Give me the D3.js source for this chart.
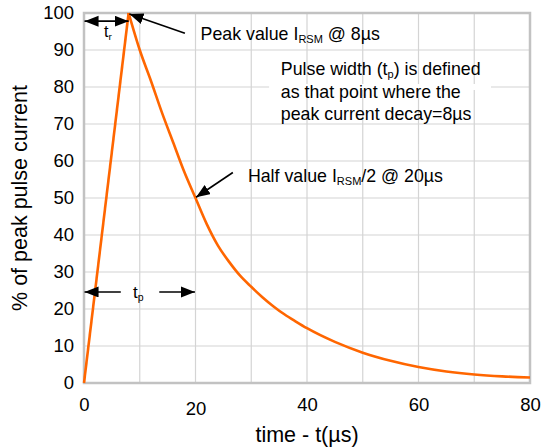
<!DOCTYPE html>
<meta charset="utf-8">
<html>
  <head>
    <title>Pulse current waveform</title>
    <style>
      body { margin: 0; background: #fff; }
      text { font-family: "Liberation Sans", Arial, sans-serif; fill: #000; }
    </style>
  </head>
  <body>
    <div id="chart"></div>
  </body>

<script src="https://d3js.org/d3.v7.min.js"></script>
<script>
// waveform: time in µs, current as % of peak
var timeUs  = [0, 8, 10, 12, 14, 16, 18, 20, 22, 24, 26, 28, 30, 32, 34, 36, 38, 40, 45, 50, 55, 60, 65, 70, 75, 80]
var pctPeak = [0, 100, 90, 81.7, 73, 65, 57, 50, 43, 37.2, 32.8, 29, 26, 23.2, 20.7, 18.5, 16.6, 14.8, 11.1, 8.2, 6, 4.3, 3.1, 2.3, 1.8, 1.5]

// axis ticks and grid
var xTicks = [0, 20, 40, 60, 80]
var xGrid  = [0, 10, 20, 30, 40, 50, 60, 70, 80]
var yTicks = [0, 10, 20, 30, 40, 50, 60, 70, 80, 90, 100]

var margin = {top: 13, right: 12, bottom: 65, left: 84},
    width = 542 - margin.left - margin.right,
    height = 448 - margin.top - margin.bottom;

var svg = d3.select("#chart")
  .append("svg")
    .attr("width", width + margin.left + margin.right)
    .attr("height", height + margin.top + margin.bottom)
  .append("g")
    .attr("transform", "translate(" + margin.left + "," + margin.top + ")")

var x = d3.scaleLinear().domain([0, 80]).range([0, width])
var y = d3.scaleLinear().domain([0, 100]).range([height, 0])

// arrow heads
var defs = svg.append("defs")
defs.append("marker")
    .attr("id", "arrow")
    .attr("markerUnits", "userSpaceOnUse")
    .attr("markerWidth", 15)
    .attr("markerHeight", 12)
    .attr("refX", 14)
    .attr("refY", 5.5)
    .attr("orient", "auto-start-reverse")
  .append("path")
    .attr("d", "M0,0 L14,5.5 L0,11 Z")
    .style("fill", "#000")

// grid
svg.selectAll("vgrid")
  .data(xGrid)
  .enter()
  .append("line")
    .attr("x1", function(d) { return x(d) })
    .attr("x2", function(d) { return x(d) })
    .attr("y1", 0)
    .attr("y2", height)
    .style("stroke", "#d4d4d4")
    .style("stroke-width", 1.2)
svg.selectAll("hgrid")
  .data(yTicks)
  .enter()
  .append("line")
    .attr("x1", 0)
    .attr("x2", width)
    .attr("y1", function(d) { return y(d) })
    .attr("y2", function(d) { return y(d) })
    .style("stroke", "#d4d4d4")
    .style("stroke-width", 1.2)

// the 80% grid line is broken behind the pulse width note
svg.append("rect")
  .attr("x", x(33.2))
  .attr("y", y(80) - 3)
  .attr("width", x(73) - x(33.2))
  .attr("height", 6)
  .style("fill", "#fff")

// frame
svg.append("rect")
  .attr("x", 0)
  .attr("y", 0)
  .attr("width", width)
  .attr("height", height)
  .style("fill", "none")
  .style("stroke", "#c2c2c2")
  .style("stroke-width", 2.5)

// axes
var yAxis = svg.append("g")
  .call(d3.axisLeft(y).tickValues(yTicks).tickSize(0).tickPadding(10))
yAxis.select(".domain").remove()
yAxis.selectAll("text").style("font-size", "18.5px").style("fill", "#000")

var xAxis = svg.append("g")
  .attr("transform", "translate(0," + height + ")")
  .call(d3.axisBottom(x).tickValues(xTicks).tickSize(0).tickPadding(15))
xAxis.select(".domain").remove()
xAxis.selectAll("text").style("font-size", "18.5px").style("fill", "#000")
// the "20" label sits a little lower in the original
xAxis.selectAll("text").filter(function(d) { return d === 20 }).attr("dy", "0.93em")

// axis titles
svg.append("text")
  .attr("text-anchor", "middle")
  .attr("x", width / 2)
  .attr("y", height + 59)
  .style("font-size", "21.5px")
  .text("time - t(µs)")
svg.append("text")
  .attr("text-anchor", "middle")
  .attr("transform", "rotate(-90)")
  .attr("x", -height / 2)
  .attr("y", -57)
  .style("font-size", "21.5px")
  .text("% of peak pulse current")

// pulse curve: straight rise, smooth decay
var pts = timeUs.map(function(t, i) { return {t: t, v: pctPeak[i]} })
var riseLine = d3.line()
  .x(function(d) { return x(d.t) })
  .y(function(d) { return y(d.v) })
var decayLine = d3.line()
  .x(function(d) { return x(d.t) })
  .y(function(d) { return y(d.v) })
  .curve(d3.curveMonotoneX)

svg.append("path")
  .datum(pts.slice(0, 2))
  .attr("d", riseLine)
  .style("fill", "none")
  .style("stroke", "#ff6600")
  .style("stroke-width", 2.6)
svg.append("path")
  .datum(pts.slice(1))
  .attr("d", decayLine)
  .style("fill", "none")
  .style("stroke", "#ff6600")
  .style("stroke-width", 2.6)
  .style("stroke-linejoin", "round")

// helper for arrows in data units
function arrow(t1, v1, t2, v2, both) {
  var l = svg.append("line")
    .attr("x1", x(t1)).attr("y1", y(v1))
    .attr("x2", x(t2)).attr("y2", y(v2))
    .style("stroke", "#000")
    .style("stroke-width", 1.6)
    .attr("marker-end", "url(#arrow)")
  if (both) l.attr("marker-start", "url(#arrow)")
}

// text with a subscript part: parts = [[text, isSub], ...]
function label(t, v, parts, size) {
  var txt = svg.append("text")
    .attr("x", x(t))
    .attr("y", y(v))
    .style("font-size", size + "px")
  var shifted = false
  parts.forEach(function(p) {
    var ts = txt.append("tspan").text(p[0])
    if (p[1] && !shifted) { ts.attr("dy", "0.3em").style("font-size", (size * 0.62) + "px"); shifted = true }
    else if (!p[1] && shifted) { ts.attr("dy", "-0.18em"); shifted = false }
  })
  return txt
}

// rise time
arrow(0.1, 97.8, 8, 97.8, true)
label(3.6, 93.4, [["t", false], ["r", true]], 16)

// peak
arrow(18.1, 94.5, 8.15, 99.7, false)
label(20.9, 92.7, [["Peak value I", false], ["RSM", true], [" @ 8µs", false]], 17.8)

// pulse width note
label(35.3, 83.2, [["Pulse width (t", false], ["p", true], [") is defined", false]], 17.8)
label(35.3, 77.0, [["as that point where the", false]], 17.8)
label(35.3, 71.2, [["peak current decay=8µs", false]], 17.8)

// half value
arrow(26.7, 56.9, 20.1, 50.2, false)
label(29.4, 54.3, [["Half value I", false], ["RSM", true], ["/2 @ 20µs", false]], 17.8)

// pulse width arrows
arrow(6.6, 24.6, 0.1, 24.6, false)
arrow(13.5, 24.6, 19.9, 24.6, false)
label(8.8, 22.9, [["t", false], ["p", true]], 17)

</script>
</html>
